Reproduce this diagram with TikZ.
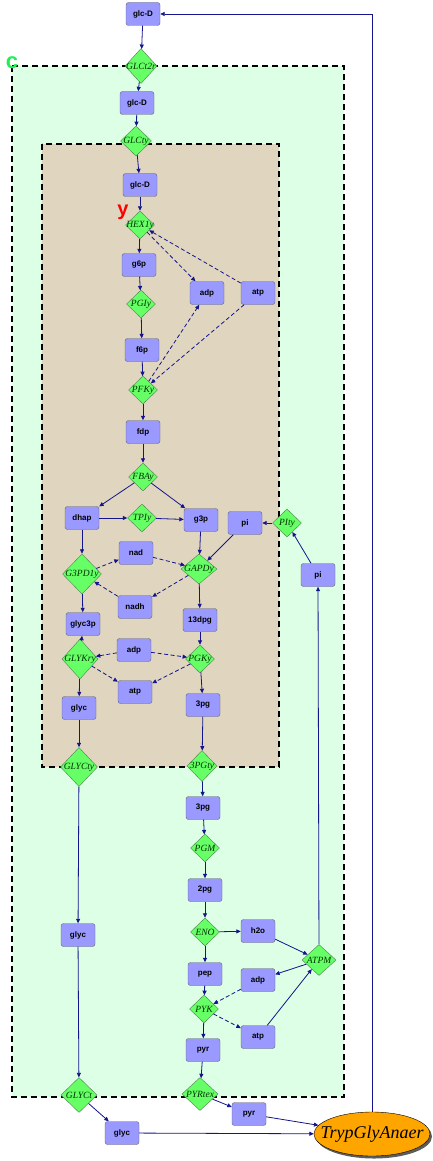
\documentclass[tikz,border=0pt]{standalone}
\usepackage{fontspec}
\setmainfont{Liberation Serif}
\setsansfont{Liberation Sans}
\usetikzlibrary{shapes.geometric,arrows.meta,shadows}

\definecolor{metblue}{HTML}{9999FF}
\definecolor{rxngreen}{HTML}{66FF66}
\definecolor{edgeblue}{HTML}{14148C}
\definecolor{cytfill}{HTML}{DCFFE6}
\definecolor{glyfill}{HTML}{E0D6C0}
\definecolor{modorange}{HTML}{FFA500}

\tikzset{
  ->/.style={draw=edgeblue,line width=0.8pt,-{Triangle[length=4.5pt,width=4pt]}},
  mod/.style={->,dash pattern=on 4pt off 2.5pt},
  met/.style={draw=black!60,fill=metblue,rounded corners=2.5pt,minimum width=34pt,minimum height=23pt,inner sep=0pt,
    font=\sffamily\bfseries\fontsize{8}{9}\selectfont},
  rxn/.style={diamond,draw=green!30!black!70,fill=rxngreen,inner sep=-3pt,minimum width=29pt,minimum height=28pt,
    text=green!20!black,font=\itshape\fontsize{9.5}{10}\selectfont},
  comp/.style={draw=black,line width=1.4pt,dash pattern=on 6pt off 4pt}
}

\begin{document}
\begin{tikzpicture}[x=1pt,y=-1pt]
    \useasboundingbox (0,0) rectangle (432,1161);
    % compartments
    \draw [comp,fill=cytfill] (12,66) rectangle (344,1097);
    \draw [comp,fill=glyfill] (42,144) rectangle (279,767);
    \node (clab) at (12,63) {\sffamily\bfseries\fontsize{22}{22}\selectfont\color[HTML]{22EE55}c};
    \node (ylab) at (123,212) {\sffamily\bfseries\fontsize{20}{20}\selectfont\color{red}y};

    % metabolites
    \node [met] (glcDa) at (143,14) {glc-D};
    \node [met] (glcDb) at (137,103) {glc-D};
    \node [met] (glcDc) at (140,185) {glc-D};
    \node [met] (g6p) at (139,265) {g6p};
    \node [met] (adpa) at (207,293) {adp};
    \node [met] (atpa) at (258,293) {atp};
    \node [met] (f6p) at (142,350) {f6p};
    \node [met] (fdp) at (143,432) {fdp};
    \node [met] (dhap) at (82,518) {dhap};
    \node [met] (g3p) at (201,520) {g3p};
    \node [met] (pia) at (245,523) {pi};
    \node [met] (nad) at (136,553) {nad};
    \node [met] (pib) at (318,575) {pi};
    \node [met] (nadh) at (135,607) {nadh};
    \node [met] (glycp) at (83,624) {glyc3p};
    \node [met] (dpg) at (200,620) {13dpg};
    \node [met] (adpb) at (134,650) {adp};
    \node [met] (atpb) at (135,692) {atp};
    \node [met] (glyca) at (79,708) {glyc};
    \node [met] (pga) at (203,705) {3pg};
    \node [met] (pgb) at (203,808) {3pg};
    \node [met] (pgc) at (205,890) {2pg};
    \node [met] (glycb) at (78,935) {glyc};
    \node [met] (h2o) at (258,931) {h2o};
    \node [met] (pep) at (205,974) {pep};
    \node [met] (adpc) at (258,980) {adp};
    \node [met] (atpc) at (258,1037) {atp};
    \node [met] (pyra) at (203,1050) {pyr};
    \node [met] (pyrb) at (249,1114) {pyr};
    \node [met] (glycc) at (122,1133) {glyc};

    % reactions
    \node [rxn,minimum width=32pt,minimum height=35pt] (GLCtr) at (141,66) {GLCt2r};
    \node [rxn,minimum width=31pt,minimum height=30pt] (GLCty) at (136,141) {GLCty};
    \node [rxn] (HEXy) at (140,225) {HEX1y};
    \node [rxn] (PGIy) at (141,304) {PGIy};
    \node [rxn] (PFKy) at (143,390) {PFKy};
    \node [rxn] (FBAy) at (143,477) {FBAy};
    \node [rxn] (TPIy) at (142,518) {TPIy};
    \node [rxn] (PIty) at (287,523) {PIty};
    \node [rxn,minimum width=39pt,minimum height=40pt] (GPDy) at (82,574) {G3PD1y};
    \node [rxn,minimum width=36pt,minimum height=30pt] (GAPDy) at (199,569) {GAPDy};
    \node [rxn,minimum width=36pt,minimum height=40pt] (GLYKy) at (80,659) {GLYKry};
    \node [rxn] (PGKy) at (200,659) {PGKy};
    \node [rxn,minimum width=37pt,minimum height=39pt] (GLYCty) at (79,767) {GLYCty};
    \node [rxn,minimum width=30pt,minimum height=31pt] (PGty) at (202,766) {3PGty};
    \node [rxn] (PGM) at (205,848) {PGM};
    \node [rxn] (ENO) at (205,932) {ENO};
    \node [rxn,minimum width=34pt,minimum height=31pt] (ATPM) at (319,960) {ATPM};
    \node [rxn] (PYK) at (204,1009) {PYK};
    \node [rxn,minimum width=36pt,minimum height=35pt] (GLYCt) at (79,1095) {GLYCt};
    \node [rxn,minimum width=36pt,minimum height=33pt] (PYRtex) at (200,1094) {PYRtex};

    \node [ellipse,draw=black,fill=modorange,minimum width=116pt,minimum height=44pt,inner xsep=-13pt,inner ysep=-6pt,
      drop shadow={shadow xshift=2pt,shadow yshift=-2.5pt,fill=black!75,opacity=0.85},
      font=\itshape\fontsize{18}{18}\selectfont] (model) at (372,1134) {TrypGlyAnaer};

    % upper glycolysis
    \draw [->] (glcDa) -- (GLCtr);
    \draw [->] (GLCtr) -- (glcDb);
    \draw [->] (glcDb) -- (GLCty);
    \draw [->] (GLCty) -- (glcDc);
    \draw [->] (glcDc) -- (HEXy);
    \draw [->] (HEXy) -- (g6p);
    \draw [mod] (HEXy) -- (adpa);
    \draw [mod] (atpa) -- (HEXy);
    \draw [->] (g6p) -- (PGIy);
    \draw [->] (PGIy) -- (f6p);
    \draw [->] (f6p) -- (PFKy);
    \draw [mod] (PFKy) -- (adpa);
    \draw [mod] (atpa) -- (PFKy);
    \draw [->] (PFKy) -- (fdp);
    \draw [->] (fdp) -- (FBAy);
    \draw [->] (FBAy) -- (dhap);
    \draw [->] (FBAy) -- (g3p);
    \draw [->] (dhap) -- (TPIy);
    \draw [->] (TPIy) -- (g3p);

    % glycerol branch
    \draw [->] (dhap) -- (GPDy);
    \draw [mod] (GPDy) -- (nad);
    \draw [mod] (nadh) -- (GPDy);
    \draw [->] (GPDy) -- (glycp);
    \draw [->] (GLYKy) -- (glycp);
    \draw [mod] (adpb) -- (GLYKy);
    \draw [mod] (GLYKy) -- (atpb);
    \draw [->] (GLYKy) -- (glyca);
    \draw [->] (glyca) -- (GLYCty);
    \draw [->] (GLYCty) -- (glycb);
    \draw [->] (glycb) -- (GLYCt);
    \draw [->] (GLYCt) -- (glycc);
    \draw [->] (glycc) -- (model);

    % lower glycolysis
    \draw [->] (g3p) -- (GAPDy);
    \draw [mod] (nad) -- (GAPDy);
    \draw [mod] (GAPDy) -- (nadh);
    \draw [->] (pia) -- (GAPDy);
    \draw [->] (PIty) -- (pia);
    \draw [->] (pib) -- (PIty);
    \draw [->] (GAPDy) -- (dpg);
    \draw [->] (dpg) -- (PGKy);
    \draw [mod] (adpb) -- (PGKy);
    \draw [mod] (PGKy) -- (atpb);
    \draw [->] (PGKy) -- (pga);
    \draw [->] (pga) -- (PGty);
    \draw [->] (PGty) -- (pgb);
    \draw [->] (pgb) -- (PGM);
    \draw [->] (PGM) -- (pgc);
    \draw [->] (pgc) -- (ENO);
    \draw [->] (ENO) -- (h2o);
    \draw [->] (ENO) -- (pep);
    \draw [->] (h2o) -- (ATPM);
    \draw [->] (ATPM) -- (adpc);
    \draw [->] (atpc) -- (ATPM);
    \draw [->] (ATPM) -- (pib);
    \draw [->] (pep) -- (PYK);
    \draw [mod] (adpc) -- (PYK);
    \draw [mod] (PYK) -- (atpc);
    \draw [->] (PYK) -- (pyra);
    \draw [->] (pyra) -- (PYRtex);
    \draw [->] (PYRtex) -- (pyrb);
    \draw [->] (pyrb) -- (model);
    \draw [->] (model.north) |- (glcDa);
\end{tikzpicture}
\end{document}
